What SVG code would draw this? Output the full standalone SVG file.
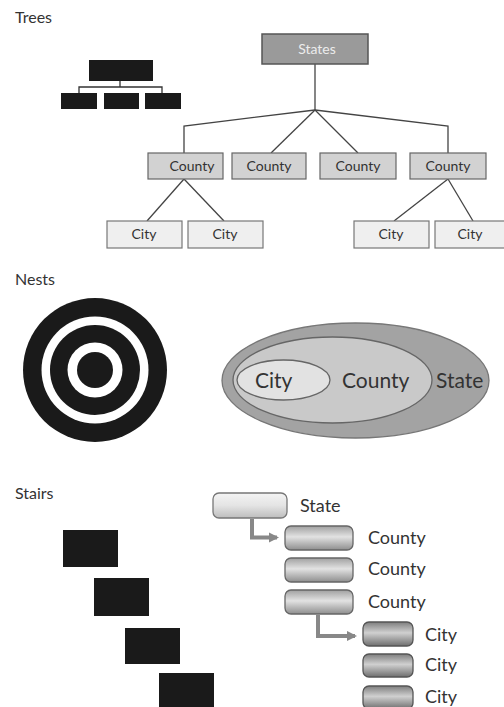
<svg xmlns="http://www.w3.org/2000/svg" width="504" height="707" viewBox="0 0 504 707">
<defs>
<style>
text{font-family:Lato,"Open Sans","Liberation Sans",sans-serif;fill:#333}
.title{font-size:16px}
.tl{font-size:14px;text-anchor:middle}
.nl{font-size:21px}
.sl{font-size:18px}
.blk{fill:#1a1a1a}
.conn{stroke:#444;stroke-width:1.3;fill:none}
.st{fill:#9a9a9a;stroke:#555;stroke-width:1.5}
.co{fill:#d2d2d2;stroke:#666;stroke-width:1.2}
.ci{fill:#efefef;stroke:#777;stroke-width:1.2}
.arr{stroke:#888;stroke-width:4;fill:none}
</style>
<linearGradient id="gState" x1="0" y1="0" x2="0" y2="1">
<stop offset="0" stop-color="#f4f4f4"/><stop offset="0.5" stop-color="#e4e4e4"/><stop offset="1" stop-color="#bdbdbd"/>
</linearGradient>
<linearGradient id="gCounty" x1="0" y1="0" x2="0" y2="1">
<stop offset="0" stop-color="#a0a0a0"/><stop offset="0.45" stop-color="#e2e2e2"/><stop offset="1" stop-color="#8e8e8e"/>
</linearGradient>
<linearGradient id="gCity" x1="0" y1="0" x2="0" y2="1">
<stop offset="0" stop-color="#7e7e7e"/><stop offset="0.45" stop-color="#d0d0d0"/><stop offset="1" stop-color="#6e6e6e"/>
</linearGradient>
<marker id="ah" viewBox="0 0 10 10" refX="8" refY="5" markerWidth="2.6" markerHeight="2.6" orient="auto" markerUnits="strokeWidth">
<path d="M0,0 L10,5 L0,10 z" fill="#888"/>
</marker>
</defs>
<rect width="504" height="707" fill="#fff"/>

<!-- Section titles -->
<text class="title" x="15" y="23">Trees</text>
<text class="title" x="15" y="285">Nests</text>
<text class="title" x="15" y="499">Stairs</text>

<!-- Small black tree icon -->
<g id="tree-icon">
<rect class="blk" x="89" y="60" width="64" height="21"/>
<path d="M120,81 V87 M79,93 V87 H162 V93" stroke="#333" stroke-width="1.3" fill="none"/>
<rect class="blk" x="61" y="93" width="36" height="16"/>
<rect class="blk" x="104" y="93" width="35" height="16"/>
<rect class="blk" x="145" y="93" width="36" height="16"/>
</g>

<!-- Tree connectors -->
<g id="tree-connectors" class="conn">
<path d="M315,64 V110"/>
<path d="M315,110 L184,126 V153"/>
<path d="M315,110 L271,153"/>
<path d="M315,110 L358,153"/>
<path d="M315,110 L448,126 V153"/>
<path d="M184,179 L147,221"/>
<path d="M184,179 L224,221"/>
<path d="M448,179 L394,221"/>
<path d="M448,179 L473,221"/>
</g>

<g id="states"><rect class="st" x="262" y="34" width="106" height="30"/><text class="tl" x="317" y="54" style="fill:#ececec">States</text></g>
<g id="county1"><rect class="co" x="148" y="153" width="75" height="26"/><text class="tl" x="192" y="171">County</text></g>
<g id="county2"><rect class="co" x="232" y="153" width="74" height="26"/><text class="tl" x="269" y="171">County</text></g>
<g id="county3"><rect class="co" x="320" y="153" width="76" height="26"/><text class="tl" x="358" y="171">County</text></g>
<g id="county4"><rect class="co" x="410" y="153" width="76" height="26"/><text class="tl" x="448" y="171">County</text></g>
<g id="city1"><rect class="ci" x="107" y="221" width="75" height="27"/><text class="tl" x="144" y="239">City</text></g>
<g id="city2"><rect class="ci" x="188" y="221" width="75" height="27"/><text class="tl" x="225" y="239">City</text></g>
<g id="city3"><rect class="ci" x="354" y="221" width="75" height="27"/><text class="tl" x="391" y="239">City</text></g>
<g id="city4"><rect class="ci" x="435" y="221" width="72" height="27"/><text class="tl" x="470" y="239">City</text></g>

<!-- Target -->
<g id="target">
<circle cx="95" cy="370" r="72" fill="#1a1a1a"/>
<circle cx="95" cy="370" r="53.5" fill="#fff"/>
<circle cx="95" cy="370" r="45" fill="#1a1a1a"/>
<circle cx="95" cy="370" r="27.5" fill="#fff"/>
<circle cx="95" cy="370" r="18" fill="#1a1a1a"/>
</g>

<!-- Nested ellipses -->
<g id="nest-state"><ellipse cx="355.5" cy="380.5" rx="133.5" ry="57.5" fill="#a3a3a3" stroke="#777" stroke-width="1.3"/><text class="nl" x="436" y="388">State</text></g>
<g id="nest-county"><ellipse cx="332.5" cy="380" rx="99.5" ry="43" fill="#c9c9c9" stroke="#666" stroke-width="1.3"/><text class="nl" x="342" y="388">County</text></g>
<g id="nest-city"><ellipse cx="283.5" cy="380" rx="46.5" ry="20" fill="#e2e2e2" stroke="#666" stroke-width="1.3"/><text class="nl" x="255" y="388">City</text></g>

<!-- Stairs black icons -->
<g id="stairs-icon">
<rect class="blk" x="63" y="530" width="55" height="37"/>
<rect class="blk" x="94" y="578" width="55" height="38"/>
<rect class="blk" x="125" y="628" width="55" height="36"/>
<rect class="blk" x="159" y="673" width="55" height="40"/>
</g>

<!-- Stairs connectors -->
<g id="stairs-connectors" class="arr">
<path d="M252,519 V537.5 H277" marker-end="url(#ah)"/>
<path d="M318,615 V636 H355" marker-end="url(#ah)"/>
</g>

<g id="s-state"><rect x="213" y="493" width="74" height="25" rx="6" fill="url(#gState)" stroke="#777" stroke-width="1.3"/><text class="sl" x="300" y="512">State</text></g>
<g id="s-county1"><rect x="285" y="526" width="68" height="24" rx="6" fill="url(#gCounty)" stroke="#666" stroke-width="1.3"/><text class="sl" x="368" y="544">County</text></g>
<g id="s-county2"><rect x="285" y="558" width="68" height="24" rx="6" fill="url(#gCounty)" stroke="#666" stroke-width="1.3"/><text class="sl" x="368" y="575">County</text></g>
<g id="s-county3"><rect x="285" y="590" width="68" height="24" rx="6" fill="url(#gCounty)" stroke="#666" stroke-width="1.3"/><text class="sl" x="368" y="608">County</text></g>
<g id="s-city1"><rect x="363" y="622" width="50" height="24" rx="6" fill="url(#gCity)" stroke="#555" stroke-width="1.3"/><text class="sl" x="425" y="641">City</text></g>
<g id="s-city2"><rect x="363" y="654" width="50" height="23" rx="6" fill="url(#gCity)" stroke="#555" stroke-width="1.3"/><text class="sl" x="425" y="671">City</text></g>
<g id="s-city3"><rect x="363" y="686" width="50" height="23" rx="6" fill="url(#gCity)" stroke="#555" stroke-width="1.3"/><text class="sl" x="425" y="703">City</text></g>
</svg>
